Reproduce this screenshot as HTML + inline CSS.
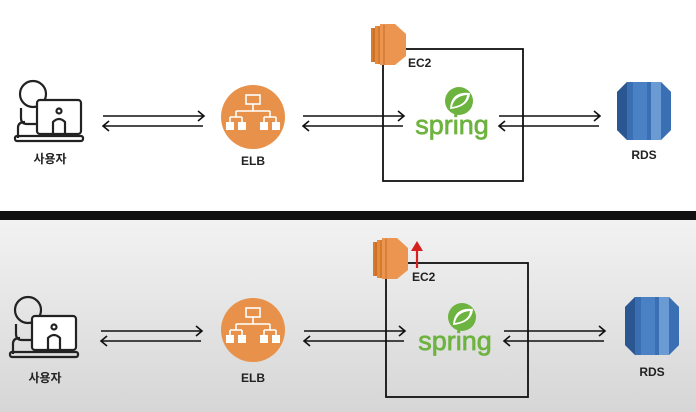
<!DOCTYPE html>
<html><head><meta charset="utf-8"><style>
html,body{margin:0;padding:0;width:696px;height:412px;overflow:hidden;background:#fff}
svg{display:block}
text{font-family:"Liberation Sans","Noto Sans CJK KR",sans-serif;font-weight:bold;fill:#222}
.sp{fill:#6db33f;font-weight:normal;stroke:#6db33f;stroke-width:0.7}
</style></head><body>
<svg width="696" height="412" viewBox="0 0 696 412" xmlns="http://www.w3.org/2000/svg">
<defs>
<linearGradient id="bg" x1="0" y1="0" x2="0" y2="1"><stop offset="0" stop-color="#f2f2f2"/><stop offset="1" stop-color="#d6d6d6"/></linearGradient>
<g id="user" fill="none" stroke="#222" stroke-width="2.2">
<circle cx="18" cy="16" r="13"/>
<path d="M6 30 L6 40 Q6 46 12 46 L30 46"/>
<path d="M3 60 L3 50 Q3 44 10 44"/>
<rect x="22" y="22" width="44" height="34" rx="3" fill="#fff"/>
<circle cx="44" cy="33" r="2.5"/>
<path d="M38 56 L38 44 Q44 38 50 44 L50 56"/>
<rect x="0" y="58" width="68" height="5" rx="2"/>
</g>
<g id="elb">
<circle cx="0" cy="0" r="32" fill="#e8914a"/>
<rect x="-7" y="-22" width="14" height="9" fill="none" stroke="#fff" stroke-width="1.6"/>
<path d="M0 -13 V-6 M-17 -6 H17 M-17 -6 V0 M17 -6 V0 M-17 0 H-11 M-17 0 H-23 M17 0 H11 M17 0 H23 M-23 0 V5 M-11 0 V5 M11 0 V5 M23 0 V5" stroke="#fff" stroke-width="1.6" fill="none"/>
<rect x="-27" y="5" width="8" height="8" fill="#fff"/><rect x="-15" y="5" width="8" height="8" fill="#fff"/>
<rect x="7" y="5" width="8" height="8" fill="#fff"/><rect x="19" y="5" width="8" height="8" fill="#fff"/>
</g>
<g id="ec2">
<path d="M0 4 H10 V38 H0 Z" fill="#d97b2e"/>
<path d="M4 2 H14 V40 H4 Z" fill="#e58b3e"/>
<path d="M9 0 H24 L35 10 V32 L24 41 H9 Z" fill="#eb9550"/>
<path d="M3 4 V38 M8 2 V40 M13 1 V41" stroke="#b8641f" stroke-width="0.8"/>
</g>
<g id="rds">
<path d="M10 0 H44 L54 10 V48 L44 58 H10 L0 48 V10 Z" fill="#3b6fb3"/>
<path d="M0 10 V48 L10 58 V0 Z" fill="#2a5691"/>
<rect x="16" y="0" width="14" height="58" fill="#4a80c4"/>
<rect x="34" y="0" width="10" height="58" fill="#6a9bd3"/>
<path d="M44 0 L54 10 V48 L44 58 Z" fill="#3b6fb3"/>
</g>
<g id="spring">
<circle cx="0" cy="0" r="14" fill="#6db33f"/>
<path d="M-9 8 Q-8 -10 11 -8 Q10 6 -9 8 Z" fill="#fff"/>
<path d="M-7 6 Q-5 -5 8 -6 Q7 4 -7 6 Z" fill="#6db33f"/>
</g>
<g id="arrows" fill="none" stroke="#111" stroke-width="1.6">
<path d="M0 0 H100 M95 -5 L101 0 L95 5"/>
<path d="M0 10 H100 M6 5 L0 10 L6 15"/>
</g>
</defs>

<rect x="0" y="0" width="696" height="211" fill="#fff"/>
<rect x="0" y="211" width="696" height="9" fill="#111"/>
<rect x="0" y="220" width="696" height="192" fill="url(#bg)"/>

<!-- top -->
<use href="#user" x="15" y="78"/>
<text x="50" y="163" font-size="12" text-anchor="middle">사용자</text>
<use href="#arrows" x="103" y="116"/>
<use href="#elb" x="253" y="117"/>
<text x="253" y="165" font-size="12" text-anchor="middle">ELB</text>
<use href="#arrows" x="303" y="116"/>
<rect x="383" y="49" width="140" height="132" fill="none" stroke="#111" stroke-width="1.8"/>
<use href="#ec2" x="371" y="24"/>
<text x="408" y="67" font-size="12">EC2</text>
<use href="#spring" x="459" y="101"/>
<text x="452" y="134" font-size="27" text-anchor="middle" class="sp">spring</text>
<use href="#arrows" x="499" y="116"/>
<use href="#rds" x="617" y="82"/>
<text x="644" y="159" font-size="12" text-anchor="middle">RDS</text>

<!-- bottom -->
<use href="#user" x="10" y="294"/>
<text x="45" y="382" font-size="12" text-anchor="middle">사용자</text>
<use href="#arrows" x="101" y="331"/>
<use href="#elb" x="253" y="330"/>
<text x="253" y="382" font-size="12" text-anchor="middle">ELB</text>
<use href="#arrows" x="304" y="331"/>
<rect x="386" y="263" width="142" height="134" fill="none" stroke="#111" stroke-width="1.8"/>
<use href="#ec2" x="373" y="238"/>
<path d="M417 268 V248" stroke="#d62020" stroke-width="2.2"/>
<path d="M411 251 L417 241 L423 251 Z" fill="#d62020"/>
<text x="412" y="281" font-size="12">EC2</text>
<use href="#spring" x="462" y="317"/>
<text x="455" y="350" font-size="27" text-anchor="middle" class="sp">spring</text>
<use href="#arrows" x="504" y="331"/>
<use href="#rds" x="625" y="297"/>
<text x="652" y="376" font-size="12" text-anchor="middle">RDS</text>
</svg>
</body></html>
